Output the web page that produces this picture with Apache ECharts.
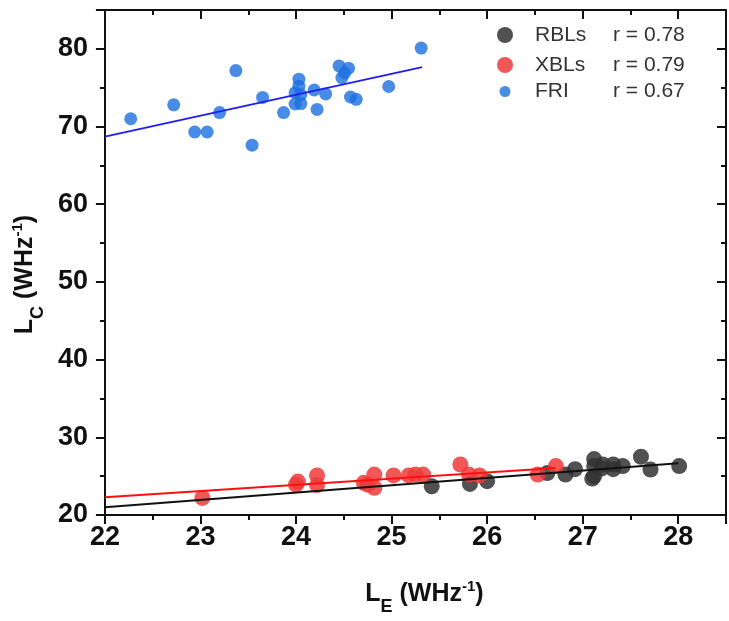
<!DOCTYPE html>
<html>
<head>
<meta charset="utf-8">
<script src="https://cdn.jsdelivr.net/npm/echarts@6/dist/echarts.min.js"></script>
<style>html,body{margin:0;padding:0;background:#fff}#c{width:729px;height:621px}</style>
</head>
<body>
<div id="c"></div>
<script>
// ---- data ----
const rblX = [25.42, 25.82, 26.0, 26.63, 26.82, 26.92, 27.1, 27.12, 27.12, 27.12, 27.2, 27.21, 27.32, 27.32, 27.42, 27.61, 27.71, 28.01];
const rblY = [23.7, 24.0, 24.35, 25.4, 25.2, 25.9, 24.7, 27.2, 26.3, 25.0, 26.0, 26.5, 26.5, 25.9, 26.3, 27.5, 25.85, 26.3];
const xblX = [23.02, 24.0, 24.02, 24.22, 24.22, 24.71, 24.75, 24.82, 24.82, 25.02, 25.18, 25.25, 25.33, 25.72, 25.81, 25.92, 26.53, 26.72];
const xblY = [22.2, 23.9, 24.3, 25.1, 23.85, 24.15, 23.9, 25.2, 23.5, 25.1, 25.1, 25.2, 25.2, 26.5, 25.2, 25.1, 25.2, 26.3];
const friX = [22.27, 22.72, 23.37, 22.94, 23.07, 23.20, 23.54, 23.65, 23.87, 24.03, 24.03, 23.99, 24.05, 23.99, 24.05, 24.19, 24.31, 24.22, 24.45, 24.55, 24.51, 24.48, 24.57, 24.63, 24.97, 25.31];
const friY = [71.0, 72.8, 77.2, 69.3, 69.3, 71.8, 67.6, 73.75, 71.8, 76.1, 75.2, 74.35, 74.1, 72.9, 72.95, 74.7, 74.2, 72.2, 77.8, 77.5, 76.9, 76.3, 73.8, 73.5, 75.15, 80.1];
const rblFitX = [22, 28];
const rblFitY = [21.0, 26.65];
const xblFitX = [22, 26.72];
const xblFitY = [22.3, 26.05];
const friFitX = [22, 25.32];
const friFitY = [68.7, 77.65];
const seriesNames = ['RBLs', 'XBLs', 'FRI'];
const rValues = ['r = 0.78', 'r = 0.79', 'r = 0.67'];
const xTickLabels = ['22', '23', '24', '25', '26', '27', '28'];
const yTickLabels = ['20', '30', '40', '50', '60', '70', '80'];

const zip = (a, b) => a.map((v, i) => [v, b[i]]);
const FONT = 'Liberation Sans, Arial, sans-serif';

const titleRich = {
  m: {fontSize: 25, fontWeight: 'bold', fontFamily: FONT, color: '#111', lineHeight: 30, padding: [5, 0, 0, 0], verticalAlign: 'top'},
  s: {fontSize: 18, fontWeight: 'bold', fontFamily: FONT, color: '#111', lineHeight: 18, padding: [21, 0, 0, 0], verticalAlign: 'top'},
  p: {fontSize: 15, fontWeight: 'bold', fontFamily: FONT, color: '#111', lineHeight: 15, padding: [2, 0, 0, 0], verticalAlign: 'top'}
};

const axisLine = {show: true, onZero: false, lineStyle: {color: '#111', width: 2}};
const tickLabel = {fontSize: 27, fontWeight: 'bold', fontFamily: FONT, color: '#111'};

function legendFmt(name) {
  const i = seriesNames.indexOf(name);
  return '{n|' + name + '}{r|' + rValues[i] + '}';
}
const legendRich = {
  n: {fontSize: 21, fontFamily: FONT, color: '#333', width: 78, lineHeight: 24},
  r: {fontSize: 21, fontFamily: FONT, color: '#333', lineHeight: 24}
};

const chart = echarts.init(document.getElementById('c'), null, {renderer: 'canvas'});
chart.setOption({
  animation: false,
  backgroundColor: '#fff',
  grid: {left: 101, top: 10, right: -5, bottom: 100, containLabel: false},
  legend: [
    {orient: 'vertical', left: 497, top: 24.5, padding: 0, itemWidth: 16, itemHeight: 16, itemGap: 9, icon: 'circle',
     data: ['RBLs', 'XBLs'], formatter: legendFmt,
     textStyle: {rich: legendRich, padding: [0, 0, 0, 17]}},
    {orient: 'vertical', left: 499.5, top: 81, padding: 0, itemWidth: 11, itemHeight: 11, icon: 'circle',
     data: ['FRI'], formatter: legendFmt,
     textStyle: {rich: legendRich, padding: [0, 0, 0, 19.5]}}
  ],
  xAxis: [
    {type: 'value', min: 22, max: 28.5, interval: 1, position: 'bottom',
     name: '{m|L}{s|E}{m| (WHz}{p|-1}{m|)}', nameLocation: 'middle', nameGap: 62,
     nameTextStyle: {rich: titleRich, padding: [0, 0, 0, 18]},
     axisLine: axisLine,
     axisTick: {show: true, inside: false, length: 9, lineStyle: {color: '#111', width: 2}},
     minorTick: {show: true, splitNumber: 2, length: 5, lineStyle: {color: '#111', width: 2}},
     axisLabel: Object.assign({margin: 9, formatter: v => xTickLabels.includes(String(v)) ? String(v) : ''}, tickLabel),
     splitLine: {show: false}, minorSplitLine: {show: false}},
    {type: 'value', min: 22, max: 28.5, interval: 1, position: 'top',
     axisLine: axisLine,
     axisTick: {show: true, inside: true, length: 9, lineStyle: {color: '#111', width: 2}},
     minorTick: {show: true, splitNumber: 2, length: 5, lineStyle: {color: '#111', width: 2}},
     axisLabel: {show: false}, splitLine: {show: false}}
  ],
  yAxis: [
    {type: 'value', min: 20, max: 85, interval: 10, position: 'left',
     name: '{m|L}{s|C}{m| (WHz}{p|-1}{m|)}', nameLocation: 'middle', nameGap: 56,
     nameTextStyle: {rich: titleRich, padding: [0, 24, 0, 0]},
     axisLine: axisLine,
     axisTick: {show: true, inside: false, length: 9, lineStyle: {color: '#111', width: 2}},
     minorTick: {show: true, splitNumber: 2, length: 5, lineStyle: {color: '#111', width: 2}},
     axisLabel: Object.assign({margin: 17, formatter: v => yTickLabels.includes(String(v)) ? String(v) : ''}, tickLabel),
     splitLine: {show: false}},
    {type: 'value', min: 20, max: 85, interval: 10, position: 'right',
     axisLine: axisLine,
     axisTick: {show: true, inside: true, length: 9, lineStyle: {color: '#111', width: 2}},
     minorTick: {show: true, splitNumber: 2, length: 5, lineStyle: {color: '#111', width: 2}},
     axisLabel: {show: false}, splitLine: {show: false}}
  ],
  series: [
    {name: 'fitRBL', type: 'line', data: zip(rblFitX, rblFitY), showSymbol: false, symbol: 'none',
     lineStyle: {color: '#111', width: 2}, z: 3, silent: true},
    {name: 'fitXBL', type: 'line', data: zip(xblFitX, xblFitY), showSymbol: false, symbol: 'none',
     lineStyle: {color: '#ff1010', width: 2}, z: 3, silent: true},
    {name: 'fitFRI', type: 'line', data: zip(friFitX, friFitY), showSymbol: false, symbol: 'none',
     lineStyle: {color: '#2020ee', width: 2}, z: 3, silent: true},
    {name: 'RBLs', type: 'scatter', data: zip(rblX, rblY), symbolSize: 16,
     itemStyle: {color: '#333333', opacity: 0.85}, z: 2},
    {name: 'XBLs', type: 'scatter', data: zip(xblX, xblY), symbolSize: 16,
     itemStyle: {color: '#ef3a3a', opacity: 0.85}, z: 2},
    {name: 'FRI', type: 'scatter', data: zip(friX, friY), symbolSize: 13,
     itemStyle: {color: '#1c6fe0'}, z: 2}
  ]
});
</script>
</body>
</html>
